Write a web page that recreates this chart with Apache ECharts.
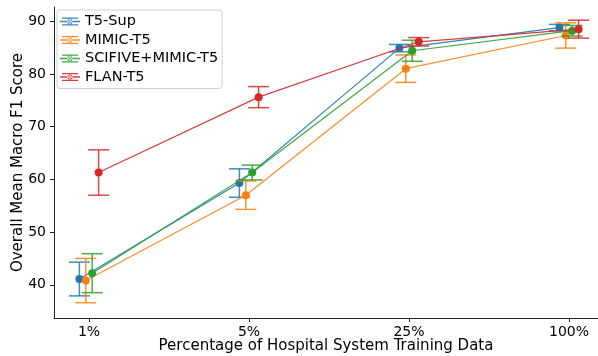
<!DOCTYPE html>
<html>
<head>
<meta charset="utf-8">
<script src="https://cdn.jsdelivr.net/npm/echarts@6/dist/echarts.min.js"></script>
<style>html,body{margin:0;padding:0;background:#fff;}#c{width:598px;height:356px;}</style>
</head>
<body>
<div id="c"></div>
<script>
// ---- data ----
const categories = ['1%', '5%', '25%', '100%'];
const yTicks = [40, 50, 60, 70, 80, 90];
const seriesNames = ['T5-Sup', 'MIMIC-T5', 'SCIFIVE+MIMIC-T5', 'FLAN-T5'];
const t5SupMean = [41.1, 59.3, 84.9, 88.8];
const t5SupErr = [3.2, 2.7, 0.7, 0.6];
const mimicMean = [40.8, 57.0, 81.0, 87.3];
const mimicErr = [4.2, 2.7, 2.6, 2.4];
const scifiveMean = [42.2, 61.3, 84.4, 88.2];
const scifiveErr = [3.7, 1.4, 2.0, 1.0];
const flanMean = [61.3, 75.6, 86.1, 88.5];
const flanErr = [4.3, 2.0, 0.8, 1.7];

// ---- layout / style ----
const means = [t5SupMean, mimicMean, scifiveMean, flanMean];
const errs = [t5SupErr, mimicErr, scifiveErr, flanErr];
const offsets = [-0.06, -0.02, 0.02, 0.06];
const colors = ['#1f77b4', '#ff7f0e', '#2ca02c', '#d62728'];
const FONT = 'DejaVu Sans';
const legendIcon = 'path://M0 3.3h20v1.4h-20z M2 0h16v1.3h-16z M2 6.7h16v1.3h-16z M9.4 0h1.2v8h-1.2z M7.4 4a2.6 2.6 0 1 0 5.2 0a2.6 2.6 0 1 0 -5.2 0z';

const series = [];
seriesNames.forEach((name, i) => {
  const pts = means[i].map((m, k) => [k + offsets[i], m]);
  const bars = means[i].map((m, k) => [k + offsets[i], m - errs[i][k], m + errs[i][k]]);
  series.push({
    type: 'custom',
    name: name,
    z: 2 + i * 2,
    data: bars,
    encode: { x: 0, y: [1, 2] },
    itemStyle: { color: colors[i] },
    silent: true,
    renderItem: function (params, api) {
      const x = api.value(0);
      const lo = api.coord([x, api.value(1)]);
      const hi = api.coord([x, api.value(2)]);
      const cw = 10.5;
      const st = { stroke: colors[i], lineWidth: 1.5, opacity: 0.85 };
      return {
        type: 'group',
        children: [
          { type: 'line', shape: { x1: lo[0], y1: lo[1], x2: hi[0], y2: hi[1] }, style: st },
          { type: 'line', shape: { x1: lo[0] - cw, y1: lo[1], x2: lo[0] + cw, y2: lo[1] }, style: st },
          { type: 'line', shape: { x1: hi[0] - cw, y1: hi[1], x2: hi[0] + cw, y2: hi[1] }, style: st }
        ]
      };
    }
  });
  series.push({
    type: 'line',
    name: name + ' mean',
    z: 3 + i * 2,
    data: pts,
    symbol: 'circle',
    symbolSize: 8,
    showSymbol: true,
    lineStyle: { color: colors[i], width: 1.2, opacity: 0.9 },
    itemStyle: { color: colors[i] },
    emphasis: { disabled: true }
  });
});

const chart = echarts.init(document.getElementById('c'), null, { renderer: 'canvas' });
chart.setOption({
  animation: false,
  backgroundColor: '#ffffff',
  color: colors,
  grid: { left: 54, right: 0, top: 7, bottom: 38, containLabel: false, outerBoundsMode: 'none' },
  legend: {
    data: seriesNames.map((n, i) => ({
      name: n, icon: legendIcon,
      itemStyle: { color: colors[i], borderWidth: 0, opacity: 0.9 }
    })),
    orient: 'vertical',
    left: 57,
    top: 10,
    itemWidth: 20,
    itemHeight: 8,
    itemGap: 3.5,
    padding: [4, 4, 4, 3],
    backgroundColor: 'rgba(255,255,255,0.85)',
    borderColor: '#d0d0d0',
    borderWidth: 1,
    borderRadius: 3,
    textStyle: { fontFamily: FONT, fontSize: 14.5, color: '#000' },
    selectedMode: false
  },
  xAxis: {
    type: 'value',
    min: -0.21875,
    max: 3.18125,
    name: 'Percentage of Hospital System Training Data',
    nameLocation: 'middle',
    nameGap: 21,
    nameMoveOverlap: false,
    nameTextStyle: { fontFamily: FONT, fontSize: 15, color: '#000' },
    axisLine: { show: true, onZero: false, lineStyle: { color: '#222', width: 1 } },
    axisTick: { show: true, length: 4, lineStyle: { color: '#222' }, customValues: [0, 1, 2, 3] },
    axisLabel: {
      fontFamily: FONT, fontSize: 14, color: '#000', margin: 7,
      customValues: [0, 1, 2, 3],
      formatter: v => categories[Math.round(v)]
    },
    splitLine: { show: false }
  },
  yAxis: {
    type: 'value',
    min: 33.7,
    max: 92.7,
    name: 'Overall Mean Macro F1 Score',
    nameLocation: 'middle',
    nameGap: 28,
    nameMoveOverlap: false,
    nameRotate: 90,
    nameTextStyle: { fontFamily: FONT, fontSize: 15, color: '#000' },
    axisLine: { show: true, onZero: false, lineStyle: { color: '#222', width: 1 } },
    axisTick: { show: true, length: 4, lineStyle: { color: '#222' }, customValues: yTicks },
    axisLabel: { fontFamily: FONT, fontSize: 14, color: '#000', margin: 8, customValues: yTicks },
    splitLine: { show: false }
  },
  series: series
});
</script>
</body>
</html>
